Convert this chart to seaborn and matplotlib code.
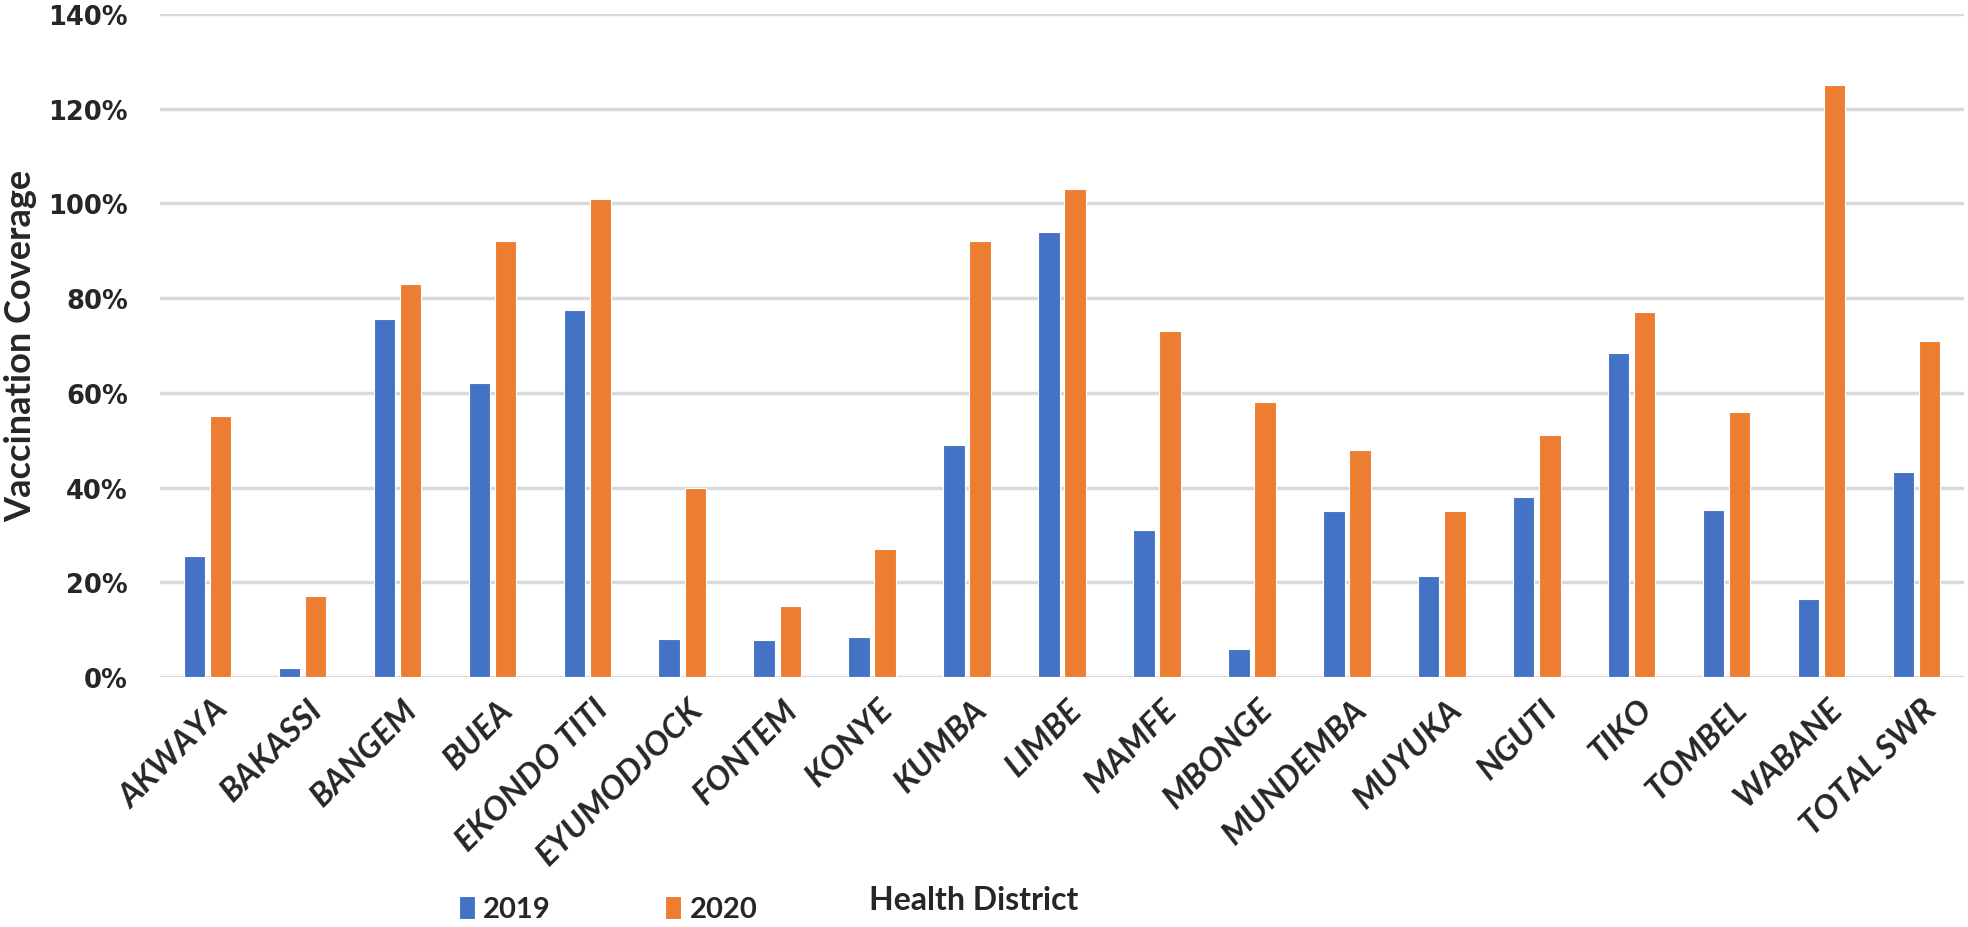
import numpy as np
import pandas as pd
import matplotlib
matplotlib.use("Agg")
import matplotlib.pyplot as plt
import matplotlib.transforms as mtransforms
import seaborn as sns
from matplotlib.ticker import FuncFormatter, MultipleLocator

districts = ["AKWAYA", "BAKASSI", "BANGEM", "BUEA", "EKONDO TITI", "EYUMODJOCK",
             "FONTEM", "KONYE", "KUMBA", "LIMBE", "MAMFE", "MBONGE", "MUNDEMBA",
             "MUYUKA", "NGUTI", "TIKO", "TOMBEL", "WABANE", "TOTAL SWR"]
cov_2019 = [25.5, 2, 75.5, 62, 77.5, 8, 7.8, 8.5, 49, 94, 31, 6, 35, 21.3, 38, 68.3, 35.3, 16.5, 43.2]
cov_2020 = [55, 17, 83, 92, 101, 40, 15, 27, 92, 103, 73, 58, 48, 35, 51, 77, 56, 125, 71]
years = ["2019", "2020"]
colors = ["#4472C4", "#ED7D31"]

df = pd.DataFrame({
    "District": districts * 2,
    "Year": [years[0]] * len(districts) + [years[1]] * len(districts),
    "Coverage": cov_2019 + cov_2020,
})

sns.set_style("white")
plt.rcParams['font.family'] = ['Lato', 'DejaVu Sans']

fig = plt.figure(figsize=(19.68, 9.28), dpi=100)
ax = fig.add_axes([0.0813, 0.2694, 0.9167, 0.7146])

sns.barplot(data=df, x="District", y="Coverage", hue="Year", palette=colors,
            width=0.55, gap=0.18, ax=ax, edgecolor="white", linewidth=0.8,
            saturation=1, legend=True)

ax.set_xlim(-0.5, len(districts) - 0.5)
ax.set_ylim(0, 140)
ax.yaxis.set_major_locator(MultipleLocator(20))
ax.yaxis.set_major_formatter(FuncFormatter(lambda v, p: f"{int(round(v))}%"))
ax.grid(axis="y", color="#D9D9D9", linewidth=2.5)
ax.set_axisbelow(True)
for s in ax.spines.values():
    s.set_visible(False)
ax.tick_params(axis="both", length=0)
ax.tick_params(axis="y", pad=23)

for lab in ax.get_yticklabels():
    lab.set_fontfamily("DejaVu Sans")
    lab.set_fontweight("bold")
    lab.set_fontsize(18.5)

ax.set_xticks(range(len(districts)))
ax.set_xticklabels(districts, rotation=45, ha="right", rotation_mode="anchor",
                   fontsize=24, fontweight="bold", fontstyle="italic")
ax.tick_params(axis="x", pad=12)
offset = mtransforms.ScaledTranslation(0.05, 0, fig.dpi_scale_trans)
for lab in ax.get_xticklabels():
    lab.set_transform(lab.get_transform() + offset)

ax.set_xlabel("")
ax.set_ylabel("Vaccination Coverage", fontsize=26, fontweight="bold")
ax.yaxis.set_label_coords(-0.068, 0.5)

fig.text(0.495, 0.030, "Health District", fontsize=23, fontweight="bold",
         ha="center", va="center")

handles, labels = ax.get_legend_handles_labels()
if ax.legend_:
    ax.legend_.remove()
leg = fig.legend(handles, labels, loc="center left", bbox_to_anchor=(0.233, 0.0195),
                 ncol=2, frameon=False, handlelength=0.55, handleheight=0.85,
                 handletextpad=0.3, columnspacing=3.9, borderpad=0, borderaxespad=0,
                 prop={"weight": "bold", "size": 21})

fig.savefig("out.png", dpi=100)
